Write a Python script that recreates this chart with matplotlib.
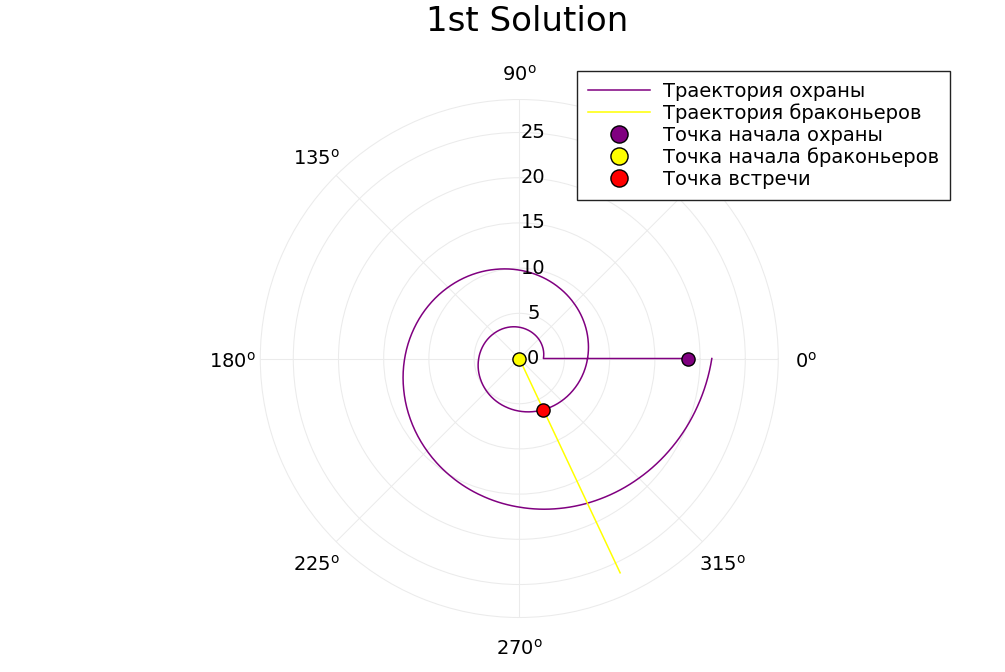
import numpy as np
import matplotlib
matplotlib.use("Agg")
import matplotlib.pyplot as plt
from matplotlib.transforms import offset_copy

plt.rcParams["font.family"] = "DejaVu Sans"
plt.rcParams["mathtext.fontset"] = "dejavusans"

# ------------------------------------------------------------------
# Data (angles in degrees, radius in km)
# ------------------------------------------------------------------
title = "1st Solution"

# guard: straight run along theta = 0 from its start, then the spiral
guard_start_r = 18.65
spiral_theta_deg = np.arange(0, 721, 15)
spiral_r = [
    2.67, 2.79, 2.91, 3.04, 3.17, 3.31, 3.46, 3.62, 3.78, 3.94,
    4.12, 4.30, 4.49, 4.69, 4.89, 5.11, 5.34, 5.57, 5.82, 6.08,
    6.35, 6.63, 6.92, 7.23, 7.55, 7.88, 8.23, 8.59, 8.97, 9.37,
    9.78, 10.21, 10.67, 11.14, 11.63, 12.14, 12.68, 13.24, 13.83, 14.44,
    15.08, 15.75, 16.44, 17.17, 17.93, 18.72, 19.55, 20.41, 21.30,
]

# poachers: straight line from the origin
poacher_theta_deg = [295.2, 295.2]
poacher_r = [0.0, 26.2]

# marked points (theta in degrees, r)
guard_start = (0.0, 18.65)
poacher_start = (0.0, 0.0)
meet_point = (295.2, 6.25)

labels = [
    "Траектория охраны",
    "Траектория браконьеров",
    "Точка начала охраны",
    "Точка начала браконьеров",
    "Точка встречи",
]

angle_ticks = [0, 45, 90, 135, 180, 225, 270, 315]
hidden_angle_labels = [45]  # sits under the legend in the original
r_ticks = [0, 5, 10, 15, 20, 25]
r_max = 28.65

# ------------------------------------------------------------------
# Figure
# ------------------------------------------------------------------
fig = plt.figure(figsize=(10.05, 6.72), dpi=100)
ax = fig.add_axes([0.259, 0.0811, 0.5154, 0.7708], projection="polar")

guard_theta = np.deg2rad(np.concatenate([[0.0], spiral_theta_deg]))
guard_r = np.concatenate([[guard_start_r], spiral_r])

guard_line, = ax.plot(guard_theta, guard_r, color="purple", lw=1.1,
                      label=labels[0], zorder=3)
# draw segments as arcs in polar space instead of chords
guard_line.get_path()._interpolation_steps = 16
ax.plot(np.deg2rad(poacher_theta_deg), poacher_r, color="yellow", lw=1.1,
        label=labels[1], zorder=3)

marker_kw = dict(marker="o", ls="none", ms=9.5, mec="black", mew=1.0, zorder=5)
ax.plot(np.deg2rad(guard_start[0]), guard_start[1], mfc="purple",
        label=labels[2], **marker_kw)
ax.plot(np.deg2rad(poacher_start[0]), poacher_start[1], mfc="yellow",
        label=labels[3], **marker_kw)
ax.plot(np.deg2rad(meet_point[0]), meet_point[1], mfc="red",
        label=labels[4], **marker_kw)

# grid
grid_color = "#ebebeb"
ax.set_ylim(0, r_max)
ax.set_yticks(r_ticks[1:])
ax.set_xticks(np.deg2rad(angle_ticks))
ax.set_xticklabels([])
ax.set_yticklabels([])
ax.tick_params(length=0)
ax.grid(True, color=grid_color, lw=0.75)
ax.spines["polar"].set_color(grid_color)
ax.spines["polar"].set_linewidth(0.75)

# angle labels outside the circle
ang_tr = offset_copy(ax.transData, fig=fig, x=0, y=-3, units="dots")
for a in angle_ticks:
    if a in hidden_angle_labels:
        continue
    ax.text(np.deg2rad(a), r_max * 1.108, f"{a}$^{{\\mathrm{{o}}}}$",
            ha="center", va="center", fontsize=14, transform=ang_tr,
            clip_on=False)

# radial labels next to the vertical axis
rad_tr = offset_copy(ax.transData, fig=fig, x=14, y=0, units="dots")
for r in r_ticks:
    ax.text(np.pi / 2, r, str(r), ha="center", va="center", fontsize=14,
            transform=rad_tr, zorder=4)

fig.text(527 / 1005, 1 - 31 / 672, title, ha="center", va="baseline",
         fontsize=24.5)

leg = ax.legend(loc="upper right", bbox_to_anchor=(950 / 1005, 1 - 71 / 672),
                bbox_transform=fig.transFigure, fontsize=14, frameon=True,
                fancybox=False, edgecolor="#222222", framealpha=1,
                borderaxespad=0, borderpad=0.55, labelspacing=0.14,
                handlelength=3.2, handletextpad=0.67, markerscale=1.3)
leg.get_frame().set_linewidth(1.0)

fig.savefig("out.png", dpi=100)
